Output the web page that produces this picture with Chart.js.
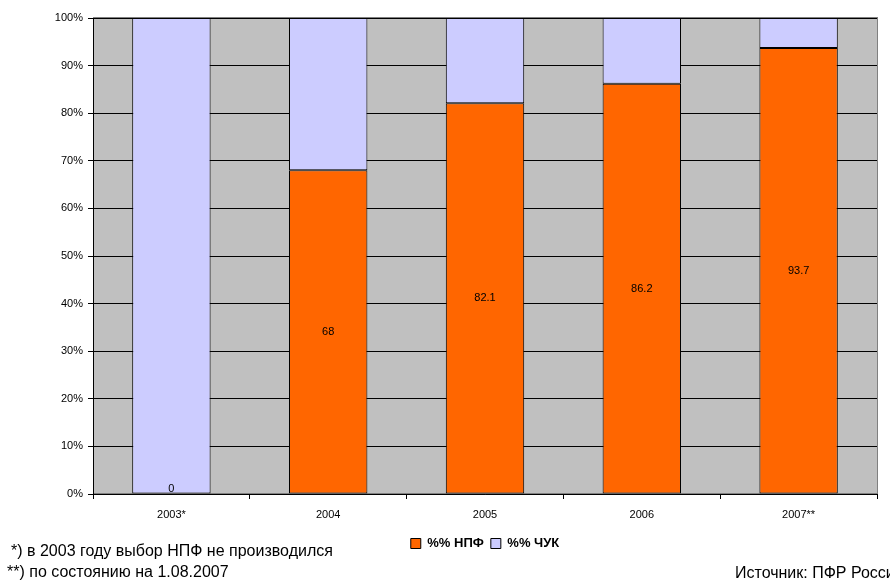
<!DOCTYPE html>
<html>
<head>
<meta charset="utf-8">
<script src="https://cdn.jsdelivr.net/npm/chart.js@4/dist/chart.umd.min.js"></script>
<style>
  body { margin: 0; background: #fff; }
  #wrap { position: relative; width: 890px; height: 581px; overflow: hidden; font-family: "Liberation Sans", Arial, sans-serif; }
  .note { position: absolute; font-size: 16px; line-height: 18px; color: #000; white-space: nowrap; }
</style>
</head>
<body>
<div id="wrap">
  <canvas id="chart-div" width="890" height="581"></canvas>
  <div class="note" style="left:11px; top:542px;">*) в 2003 году выбор НПФ не производился</div>
  <div class="note" style="left:7px; top:563px;">**) по состоянию на 1.08.2007</div>
  <div class="note" style="left:735px; top:564px;">Источник: ПФР России</div>
</div>
<script>
// data
const years = ['2003*', '2004', '2005', '2006', '2007**'];
const npfShare = [0, 68, 82.1, 86.2, 93.7];
const chukShare = [100, 32, 17.9, 13.8, 6.3];
const seriesNames = ['%% НПФ', '%% ЧУК'];

const ctx = document.getElementById('chart-div').getContext('2d');
Chart.defaults.font.family = '"Liberation Sans", Arial, sans-serif';
Chart.defaults.color = '#000';

// grey plot area like excel
const plotBg = {
  id: 'plotBg',
  beforeDraw(chart) {
    const a = chart.chartArea;
    const c = chart.ctx;
    c.save();
    c.fillStyle = '#c0c0c0';
    c.fillRect(a.left, a.top, a.right - a.left, a.bottom - a.top);
    c.strokeStyle = '#808080';
    c.lineWidth = 1;
    c.strokeRect(a.left + 0.5, a.top - 0.5, a.right - a.left, a.bottom - a.top);
    c.restore();
  }
};

// value labels in the middle of the orange bars
const barLabels = {
  id: 'barLabels',
  afterDatasetsDraw(chart) {
    const c = chart.ctx;
    const meta = chart.getDatasetMeta(0);
    c.save();
    c.font = '11px "Liberation Sans", Arial, sans-serif';
    c.fillStyle = '#000';
    c.textAlign = 'center';
    c.textBaseline = 'middle';
    meta.data.forEach((bar, i) => {
      let y = (bar.y + bar.base) / 2;
      if (npfShare[i] === 0) y = bar.base - 5;
      c.fillText(String(npfShare[i]), bar.x, y);
    });
    c.restore();
  }
};

const chart = new Chart(ctx, {
  type: 'bar',
  data: {
    labels: years,
    datasets: [{
      label: seriesNames[0],
      data: npfShare,
      backgroundColor: '#ff6600',
      borderColor: '#000',
      borderWidth: c => (c.raw === 0 ? 0 : 1),
      borderSkipped: false
    }, {
      label: seriesNames[1],
      data: chukShare,
      backgroundColor: '#ccccff',
      borderColor: '#000',
      borderWidth: 1,
      borderSkipped: false
    }]
  },
  options: {
    responsive: false,
    animation: false,
    barPercentage: 0.5,
    categoryPercentage: 1,
    layout: { padding: { left: 0, right: 13, top: 18, bottom: 21 } },
    plugins: {
      tooltip: { enabled: false },
      legend: {
        position: 'bottom',
        fullSize: false,
        labels: {
          boxWidth: 10,
          boxHeight: 10,
          padding: 7,
          color: '#000',
          font: { size: 13, weight: 'bold' },
          generateLabels: ch => {
            const items = Chart.defaults.plugins.legend.labels.generateLabels(ch);
            items.forEach(it => { it.lineWidth = 1; it.strokeStyle = '#000'; });
            return items;
          }
        }
      }
    },
    scales: {
      x: {
        stacked: true,
        afterFit: s => { s.height = 36; },
        grid: { display: true, drawOnChartArea: false, color: '#000', tickLength: 5, offset: true },
        border: { color: '#000' },
        ticks: { font: { size: 11 }, padding: 9 }
      },
      y: {
        stacked: true,
        min: 0,
        max: 100,
        afterFit: s => { s.width = 93; },
        grid: { color: '#000', tickLength: 5 },
        border: { color: '#000' },
        ticks: { stepSize: 10, font: { size: 11 }, padding: 5, callback: v => v + '%' }
      }
    }
  },
  plugins: [plotBg, barLabels]
});
</script>
</body>
</html>
